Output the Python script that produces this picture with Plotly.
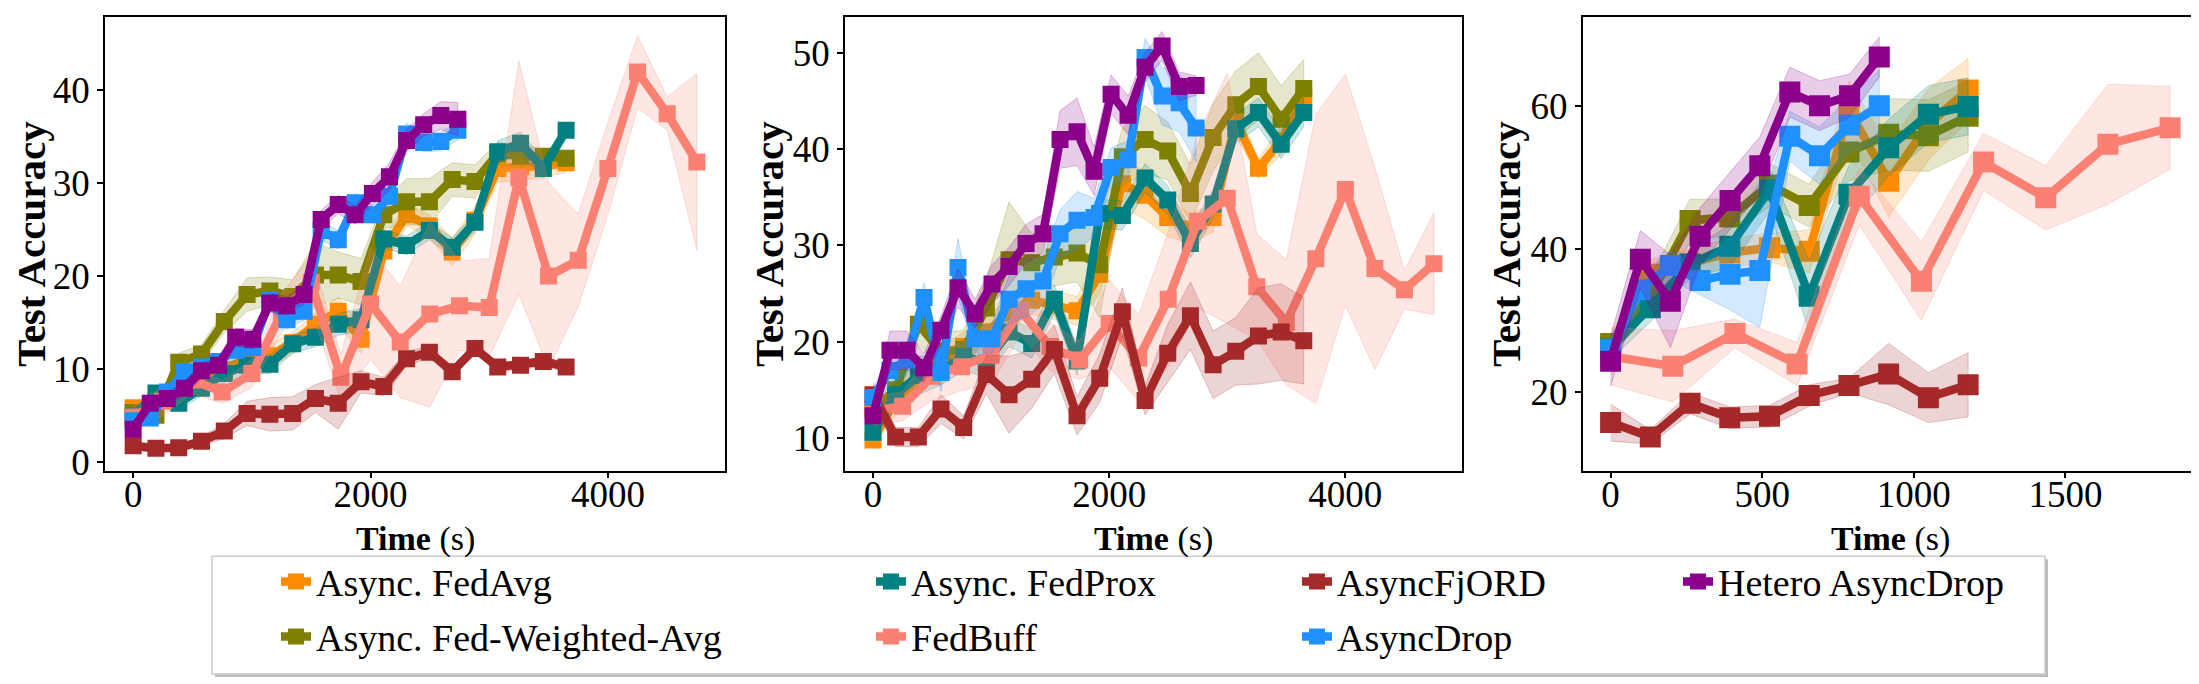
import plotly.graph_objects as go

# time grids (s)
t_async = [0, 192, 384, 576, 768, 960, 1152, 1344, 1536, 1728, 1920, 2112, 2304, 2496, 2688, 2880, 3072, 3264, 3456, 3648]
t_drop = [0, 144, 288, 432, 576, 720, 864, 1008, 1152, 1296, 1440, 1584, 1728, 1872, 2016, 2160, 2304, 2448, 2592, 2736]
t_buff = [0, 250, 500, 750, 1000, 1250, 1500, 1750, 2000, 2250, 2500, 2750, 3000, 3250, 3500, 3750, 4000, 4250, 4500, 4750]
t3_async = [0, 131, 262, 393, 524, 655, 786, 917, 1048, 1179]
t3_drop = [0, 98, 197, 295, 394, 492, 591, 689, 788, 886]
t3_buff = [0, 205, 410, 615, 820, 1025, 1230, 1435, 1640, 1845]

# panel 1
p1_fedavg = [5.8, 6.5, 7.3, 9.0, 9.9, 11.2, 11.4, 12.8, 14.8, 16.2, 13.2, 22.7, 26.6, 25.4, 22.6, 26.0, 31.6, 31.8, 31.8, 32.2]
p1_fedavg_sd = [0.5, 0.7, 1.0, 1.0, 1.0, 1.0, 1.2, 1.2, 1.2, 1.5, 1.5, 1.5, 1.2, 1.2, 1.5, 1.5, 1.5, 1.5, 1.2, 1.0]
p1_fedwavg = [5.3, 5.0, 10.7, 11.6, 15.1, 18.0, 18.4, 17.8, 20.1, 20.1, 19.4, 26.6, 28.0, 28.0, 30.4, 30.2, 33.2, 32.9, 32.9, 32.7]
p1_fedwavg_sd = [0.5, 0.8, 1.0, 1.0, 1.2, 1.8, 1.5, 1.8, 3.5, 2.5, 2.5, 1.5, 2.5, 2.5, 1.8, 1.8, 1.2, 1.2, 0.8, 0.8]
p1_fedprox = [4.9, 7.4, 6.3, 7.9, 9.5, 10.4, 10.5, 12.7, 13.4, 14.8, 15.3, 24.0, 23.3, 24.9, 23.1, 25.8, 33.4, 34.3, 31.6, 35.7]
p1_fedprox_sd = [0.6, 0.8, 0.8, 0.8, 1.0, 1.0, 1.0, 1.0, 1.0, 1.2, 1.2, 1.0, 1.0, 1.0, 1.0, 1.0, 1.2, 1.2, 1.0, 0.8]
p1_fedbuff = [4.8, 6.5, 8.8, 7.5, 9.5, 16.0, 19.3, 9.1, 17.0, 12.9, 15.9, 16.8, 16.6, 30.6, 20.0, 21.7, 31.6, 42.0, 37.5, 32.3]
p1_fedbuff_sd = [1.5, 1.5, 1.5, 1.2, 1.5, 2.0, 3.0, 2.5, 6.0, 6.0, 10.0, 4.8, 5.3, 12.6, 10.0, 5.0, 5.0, 3.9, 1.8, 9.5]
p1_fjord = [1.7, 1.45, 1.5, 2.2, 3.3, 5.2, 5.1, 5.2, 6.8, 6.3, 8.6, 8.1, 11.1, 11.8, 9.7, 12.2, 10.2, 10.4, 10.8, 10.2]
p1_fjord_sd = [0.5, 0.4, 0.4, 0.5, 0.8, 1.3, 1.8, 1.8, 1.5, 2.8, 1.2, 1.0, 0.8, 0.6, 0.6, 0.5, 0.5, 0.5, 0.5, 0.5]
p1_asyncdrop = [4.4, 4.7, 7.5, 9.7, 10.2, 10.8, 12.0, 12.3, 17.4, 15.3, 16.2, 24.9, 23.9, 27.9, 26.6, 28.6, 35.3, 34.4, 34.5, 35.7]
p1_asyncdrop_sd = [0.6, 0.6, 0.7, 0.8, 0.8, 0.8, 0.8, 1.0, 1.0, 1.0, 1.0, 1.0, 1.0, 1.0, 1.0, 1.2, 1.2, 1.0, 1.0, 1.0]
p1_hetero = [3.5, 6.3, 6.8, 7.9, 9.8, 10.4, 13.4, 13.2, 17.1, 16.8, 18.0, 26.1, 27.7, 26.6, 28.9, 30.7, 34.6, 36.3, 37.3, 36.9]
p1_hetero_sd = [0.6, 0.7, 0.7, 0.8, 0.8, 0.8, 1.0, 1.0, 1.0, 1.0, 1.0, 1.0, 1.0, 1.0, 1.2, 1.5, 1.2, 1.2, 1.5, 1.8]

# panel 2
p2_fedavg = [9.8, 14.0, 16.0, 18.0, 19.5, 21.0, 23.0, 24.3, 23.8, 23.2, 27.0, 36.4, 35.2, 32.9, 31.7, 32.9, 42.9, 38.0, 40.9, 45.3]
p2_fedavg_sd = [0.8, 1.5, 1.5, 1.5, 1.5, 1.5, 1.5, 1.5, 1.5, 1.5, 2.0, 2.5, 2.5, 2.0, 1.5, 1.5, 1.5, 1.0, 1.5, 1.5]
p2_fedwavg = [13.0, 15.0, 21.8, 19.0, 19.2, 23.5, 28.5, 28.2, 28.8, 29.2, 28.0, 39.2, 41.0, 39.8, 35.4, 41.2, 44.6, 46.5, 43.1, 46.3]
p2_fedwavg_sd = [1.0, 1.5, 2.0, 2.0, 2.0, 3.0, 6.0, 3.0, 3.0, 3.0, 5.5, 3.0, 3.5, 3.0, 3.0, 3.5, 3.5, 3.5, 3.5, 3.0]
p2_fedprox = [10.6, 14.5, 16.5, 17.0, 18.5, 17.8, 21.0, 19.8, 24.4, 18.0, 33.3, 33.1, 37.0, 34.7, 30.2, 34.3, 42.1, 43.8, 40.5, 43.8]
p2_fedprox_sd = [0.8, 1.5, 2.0, 1.5, 1.5, 1.5, 1.5, 1.5, 1.5, 1.5, 1.5, 1.5, 1.5, 1.5, 1.5, 1.5, 1.5, 1.5, 1.5, 1.5]
p2_fedbuff = [12.8, 13.3, 16.4, 17.4, 18.6, 23.2, 19.5, 18.1, 21.9, 18.3, 24.4, 32.5, 34.9, 25.7, 22.0, 28.6, 35.8, 27.6, 25.4, 28.1]
p2_fedbuff_sd = [1.5, 1.5, 2.5, 2.5, 3.0, 2.5, 2.5, 2.0, 4.5, 4.5, 7.0, 9.0, 13.0, 5.5, 6.5, 15.0, 12.0, 10.5, 2.0, 5.3]
p2_fjord = [14.5, 10.1, 10.1, 13.0, 11.1, 16.6, 14.5, 16.1, 19.2, 12.3, 16.2, 23.1, 13.9, 18.8, 22.7, 17.6, 19.0, 20.6, 21.0, 20.1]
p2_fjord_sd = [1.2, 1.0, 1.0, 1.5, 1.2, 2.0, 4.0, 3.0, 2.5, 2.0, 2.5, 2.5, 1.5, 3.0, 3.5, 3.5, 3.5, 5.0, 5.0, 4.5]
p2_asyncdrop = [14.2, 17.0, 18.1, 24.6, 16.8, 27.7, 20.3, 20.3, 24.4, 25.5, 26.3, 31.2, 32.6, 32.9, 38.1, 38.9, 49.5, 45.5, 44.8, 42.2]
p2_asyncdrop_sd = [1.0, 1.5, 1.5, 1.5, 2.0, 3.0, 1.5, 1.5, 2.5, 3.0, 2.5, 2.5, 3.0, 2.0, 2.0, 2.0, 2.0, 3.0, 3.0, 3.5]
p2_hetero = [12.3, 19.1, 19.1, 17.3, 21.2, 25.6, 22.9, 26.0, 27.8, 30.2, 31.2, 41.0, 41.8, 37.7, 45.7, 43.5, 48.5, 50.7, 46.5, 46.6]
p2_hetero_sd = [1.0, 2.0, 2.0, 1.5, 1.5, 2.0, 1.5, 2.0, 2.0, 2.0, 2.0, 3.0, 3.5, 2.5, 2.0, 2.0, 1.5, 1.5, 1.5, 1.0]

# panel 3
p3_fedavg = [26.4, 36.5, 38.0, 39.5, 40.2, 39.7, 59.5, 49.5, 57.5, 62.3]
p3_fedavg_sd = [1.5, 2.0, 2.0, 2.0, 2.0, 3.0, 4.0, 5.0, 5.0, 4.4]
p3_fedwavg = [26.8, 33.5, 44.0, 44.5, 49.0, 46.1, 53.6, 56.1, 55.9, 58.6]
p3_fedwavg_sd = [1.0, 2.5, 3.0, 2.5, 3.0, 3.0, 4.0, 5.0, 5.0, 5.0]
p3_fedprox = [26.0, 31.8, 37.9, 40.4, 48.3, 33.4, 47.7, 54.2, 58.9, 60.0]
p3_fedprox_sd = [1.5, 2.0, 2.0, 3.0, 3.0, 5.0, 4.0, 4.0, 4.0, 4.0]
p3_fedbuff = [25.0, 23.6, 28.2, 23.9, 47.4, 35.5, 52.2, 47.2, 54.7, 57.0]
p3_fedbuff_sd = [4.0, 5.0, 2.0, 3.0, 4.0, 5.5, 4.0, 4.5, 8.4, 5.8]
p3_fjord = [15.7, 13.7, 18.4, 16.4, 16.6, 19.5, 20.9, 22.5, 19.2, 21.0]
p3_fjord_sd = [2.6, 1.0, 1.5, 1.5, 1.5, 1.5, 1.0, 4.3, 3.5, 4.5]
p3_asyncdrop = [25.9, 34.3, 37.7, 35.6, 36.5, 37.0, 55.8, 53.1, 57.4, 60.1]
p3_asyncdrop_sd = [1.5, 2.0, 2.0, 2.0, 5.0, 8.0, 3.5, 4.0, 4.0, 5.0]
p3_hetero = [24.3, 38.6, 32.7, 41.8, 46.8, 51.7, 62.0, 60.1, 61.5, 66.9]
p3_hetero_sd = [3.5, 4.0, 6.5, 4.0, 4.0, 4.0, 3.5, 3.5, 3.0, 2.8]

names = ["Async. FedAvg", "Async. Fed-Weighted-Avg", "Async. FedProx", "FedBuff",
         "AsyncFjORD", "AsyncDrop", "Hetero AsyncDrop"]
colors = ["#FF8C00", "#808000", "#008080", "#FA8072", "#A52A2A", "#1E90FF", "#8B008B"]

FONT = "Liberation Serif"
W, H = 2199, 684


def rgba(hexcol, a):
    h = hexcol.lstrip("#")
    return "rgba(%d,%d,%d,%s)" % (int(h[0:2], 16), int(h[2:4], 16), int(h[4:6], 16), a)


panels = [
    ([t_async, t_async, t_async, t_buff, t_async, t_drop, t_drop],
     [p1_fedavg, p1_fedwavg, p1_fedprox, p1_fedbuff, p1_fjord, p1_asyncdrop, p1_hetero],
     [p1_fedavg_sd, p1_fedwavg_sd, p1_fedprox_sd, p1_fedbuff_sd, p1_fjord_sd, p1_asyncdrop_sd, p1_hetero_sd]),
    ([t_async, t_async, t_async, t_buff, t_async, t_drop, t_drop],
     [p2_fedavg, p2_fedwavg, p2_fedprox, p2_fedbuff, p2_fjord, p2_asyncdrop, p2_hetero],
     [p2_fedavg_sd, p2_fedwavg_sd, p2_fedprox_sd, p2_fedbuff_sd, p2_fjord_sd, p2_asyncdrop_sd, p2_hetero_sd]),
    ([t3_async, t3_async, t3_async, t3_buff, t3_async, t3_drop, t3_drop],
     [p3_fedavg, p3_fedwavg, p3_fedprox, p3_fedbuff, p3_fjord, p3_asyncdrop, p3_hetero],
     [p3_fedavg_sd, p3_fedwavg_sd, p3_fedprox_sd, p3_fedbuff_sd, p3_fjord_sd, p3_asyncdrop_sd, p3_hetero_sd]),
]

fig = go.Figure()

for p, (xs, ys, sds) in enumerate(panels):
    xa = "x" if p == 0 else "x%d" % (p + 1)
    ya = "y" if p == 0 else "y%d" % (p + 1)
    msize = 17 if p < 2 else 21
    for k in range(7):
        x, y, sd = xs[k], ys[k], sds[k]
        leg = "legend" if k == 0 else "legend%d" % (k + 1)
        fig.add_trace(go.Scatter(
            x=x, y=y, mode="lines+markers", name=names[k],
            line=dict(color=colors[k], width=8.5),
            marker=dict(symbol="square", size=msize, color=colors[k]),
            xaxis=xa, yaxis=ya, legend=leg, showlegend=(p == 0),
        ))
        upper = [a + b for a, b in zip(y, sd)]
        lower = [a - b for a, b in zip(y, sd)]
        fig.add_trace(go.Scatter(
            x=x + x[::-1], y=upper + lower[::-1], mode="lines", fill="toself",
            fillcolor=rgba(colors[k], 0.2), line=dict(color=rgba(colors[k], 0.25), width=1),
            xaxis=xa, yaxis=ya, showlegend=False, hoverinfo="skip",
        ))

axis_common = dict(
    showgrid=False, zeroline=False, showline=True, linecolor="black", linewidth=1.5,
    mirror=True, ticks="outside", ticklen=6, tickwidth=1.5, tickcolor="black",
    tickfont=dict(family=FONT, size=37, color="black"),
)
xdomains = [[0.0441, 0.3261], [0.3806, 0.6612], [0.7161, 0.9959]]
xranges = [[-237.5, 4987.5], [-237.5, 4987.5], [-92, 1937]]
xticks = [[0, 2000, 4000], [0, 2000, 4000], [0, 500, 1000, 1500]]
yranges = [[-0.98, 47.9], [6.6, 53.7], [8.96, 72.5]]
yticks = [[0, 10, 20, 30, 40], [10, 20, 30, 40, 50], [20, 40, 60]]
ydomain = [0.3114, 0.9864]
ytitle_px = [23, 761, 1498]

layout = dict(
    width=W, height=H, plot_bgcolor="white", paper_bgcolor="white",
    margin=dict(l=0, r=0, t=0, b=0),
    font=dict(family=FONT, color="black"),
)
annotations = []
for p in range(3):
    xk = "xaxis" if p == 0 else "xaxis%d" % (p + 1)
    yk = "yaxis" if p == 0 else "yaxis%d" % (p + 1)
    layout[xk] = dict(axis_common, domain=xdomains[p], range=xranges[p], tickvals=xticks[p],
                      anchor="y" if p == 0 else "y%d" % (p + 1), ticklabelstandoff=-16)
    layout[yk] = dict(axis_common, domain=ydomain, range=yranges[p], tickvals=yticks[p],
                      anchor="x" if p == 0 else "x%d" % (p + 1))
    # axis titles
    annotations.append(dict(
        text="<b>Time</b> (s)", xref="paper", yref="paper",
        x=sum(xdomains[p]) / 2, y=1 - 540 / H, xanchor="center", yanchor="middle",
        showarrow=False, font=dict(family=FONT, size=34, color="black"),
    ))
    annotations.append(dict(
        text="<b>Test Accuracy</b>", xref="paper", yref="paper", textangle=-90,
        x=ytitle_px[p] / W, y=sum(ydomain) / 2, xanchor="center", yanchor="middle",
        showarrow=False, font=dict(family=FONT, size=41, color="black"),
    ))
layout["annotations"] = annotations

# legend entries: four columns, two rows
text_x = [318, 318, 913, 913, 1339, 1339, 1720]
row_y = [584, 640, 584, 640, 584, 640, 584]
for k in range(7):
    key = "legend" if k == 0 else "legend%d" % (k + 1)
    layout[key] = dict(
        x=(text_x[k] - 50) / W, y=1 - row_y[k] / H, xanchor="left", yanchor="middle",
        bgcolor="rgba(0,0,0,0)", borderwidth=0,
        font=dict(family=FONT, size=38, color="black"),
    )

layout["shapes"] = [
    dict(type="rect", xref="paper", yref="paper", x0=207 / W, x1=2040 / W,
         y0=1 - 681 / H, y1=1 - 561 / H, fillcolor="rgba(120,120,120,0.5)",
         line=dict(width=0), layer="above"),
    dict(type="rect", xref="paper", yref="paper", x0=204 / W, x1=2037 / W,
         y0=1 - 678 / H, y1=1 - 558 / H, fillcolor="white",
         line=dict(color="#cccccc", width=1.5), layer="above"),
]

fig.update_layout(**layout)
fig.write_html("out.html")
